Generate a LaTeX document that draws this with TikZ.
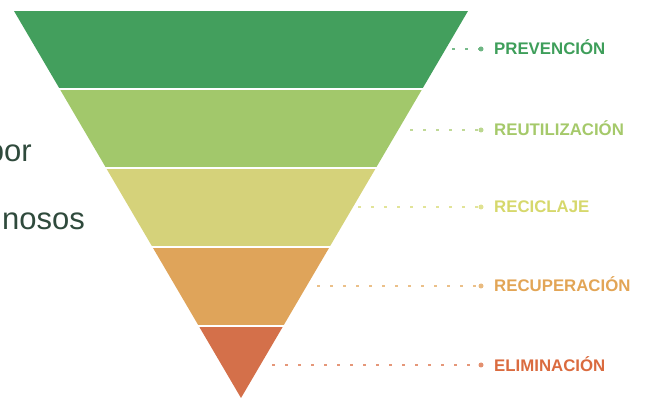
\documentclass[tikz,border=0pt]{standalone}
\usepackage{fontspec}
\setmainfont{Liberation Sans}
\definecolor{verdeA}{HTML}{439F5D}
\definecolor{verdeB}{HTML}{A2C86B}
\definecolor{amarillo}{HTML}{D5D27A}
\definecolor{naranja}{HTML}{DFA45A}
\definecolor{rojizo}{HTML}{D4704A}
\definecolor{textoA}{HTML}{3E9E5A}
\definecolor{textoB}{HTML}{A5C96A}
\definecolor{textoC}{HTML}{D6D86C}
\definecolor{textoD}{HTML}{E2A556}
\definecolor{textoE}{HTML}{DA6B3F}
\definecolor{oscuro}{HTML}{2F4A3C}
\tikzset{
  etiqueta/.style={anchor=base west, inner sep=0pt, font=\bfseries\fontsize{16.8}{19}\selectfont},
  punto/.style={circle, inner sep=0pt, minimum size=5pt},
  guia/.style={line width=1.1pt, dash pattern=on 3pt off 10pt},
  fragmento/.style={anchor=base east, inner sep=0pt, text=oscuro, font=\fontsize{31}{36}\selectfont}
}
\begin{document}
\begin{tikzpicture}[x=1pt,y=-1pt]
    \useasboundingbox (0,0) rectangle (646,398);

    % Texto cortado a la izquierda
    \node[fragmento] (t1) at (32,162) {por};
    \node[fragmento] (t2) at (85,230) {nosos};

    % Pirámide invertida
    \begin{scope}
      \clip (14,11) -- (468,11) -- (241,398) -- cycle;
      \fill[verdeA] (0,11) rectangle (646,88);
      \fill[verdeB] (0,90) rectangle (646,167);
      \fill[amarillo] (0,169) rectangle (646,246);
      \fill[naranja] (0,248) rectangle (646,325);
      \fill[rojizo] (0,327) rectangle (646,398);
    \end{scope}

    % Puntos de inicio de las guías
    \coordinate (g1) at (452,49);
    \coordinate (g2) at (410,130);
    \coordinate (g3) at (358,207);
    \coordinate (g4) at (317,286);
    \coordinate (g5) at (272,365);

    % Marcadores
    \node[punto, fill=textoA!75] (p1) at (481,49) {};
    \node[punto, fill=textoB!75] (p2) at (481,130) {};
    \node[punto, fill=textoC!75] (p3) at (481,207) {};
    \node[punto, fill=textoD!75] (p4) at (481,286) {};
    \node[punto, fill=textoE!75] (p5) at (481,365) {};

    % Guías punteadas
    \draw[guia, textoA!70] (g1) -- (p1);
    \draw[guia, textoB!70] (g2) -- (p2);
    \draw[guia, textoC!70] (g3) -- (p3);
    \draw[guia, textoD!70] (g4) -- (p4);
    \draw[guia, textoE!70] (g5) -- (p5);

    % Etiquetas
    \node[etiqueta, text=textoA] (e1) at (494,55) {PREVENCIÓN};
    \node[etiqueta, text=textoB] (e2) at (494,136) {REUTILIZACIÓN};
    \node[etiqueta, text=textoC] (e3) at (494,213) {RECICLAJE};
    \node[etiqueta, text=textoD] (e4) at (494,292) {RECUPERACIÓN};
    \node[etiqueta, text=textoE] (e5) at (494,371) {ELIMINACIÓN};
\end{tikzpicture}
\end{document}
